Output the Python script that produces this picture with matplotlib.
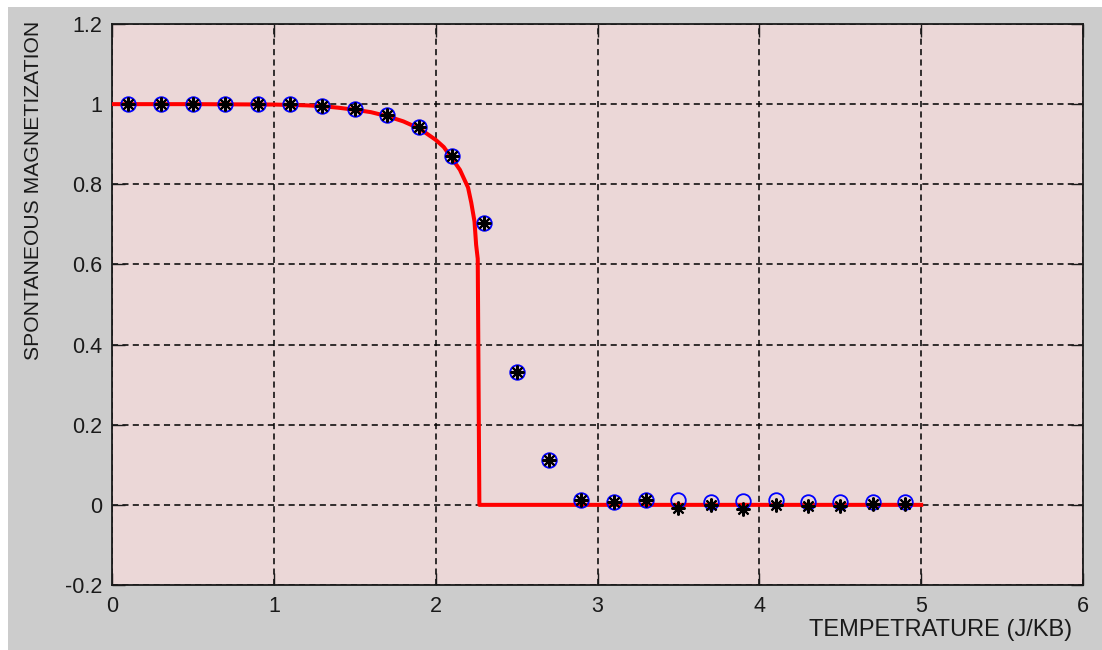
import numpy as np
import matplotlib
matplotlib.use('Agg')
import matplotlib.pyplot as plt
from matplotlib.patches import Rectangle

# simulated temperatures (J/KB)
temps = [0.1, 0.3, 0.5, 0.7, 0.9, 1.1, 1.3, 1.5, 1.7, 1.9, 2.1, 2.3, 2.5,
         2.7, 2.9, 3.1, 3.3, 3.5, 3.7, 3.9, 4.1, 4.3, 4.5, 4.7, 4.9]

# magnetization, run 1 (blue circles)
mag_circle = [1.0, 1.0, 1.0, 1.0, 1.0, 1.0, 0.995, 0.987, 0.972, 0.942,
              0.870, 0.703, 0.331, 0.111, 0.013, 0.006, 0.011, 0.011,
              0.007, 0.009, 0.012, 0.007, 0.008, 0.007, 0.008]

# magnetization, run 2 (black asterisks)
mag_star = [1.0, 1.0, 1.0, 1.0, 1.0, 1.0, 0.995, 0.987, 0.972, 0.942,
            0.870, 0.703, 0.331, 0.111, 0.013, 0.006, 0.011, -0.009,
            0.0, -0.011, 0.0, -0.003, -0.002, 0.003, 0.002]

# exact (Onsager) curve
theory_T = [0.0, 0.5, 1.0, 1.2, 1.3, 1.4, 1.5, 1.6, 1.7, 1.8, 1.9, 2.0,
            2.05, 2.1, 2.15, 2.2, 2.22, 2.24, 2.25, 2.26, 2.27, 5.0]
theory_M = [1.0, 1.0, 0.999, 0.997, 0.995, 0.991, 0.986, 0.980, 0.970,
            0.957, 0.939, 0.911, 0.893, 0.865, 0.836, 0.792, 0.754, 0.707,
            0.649, 0.614, 0.0, 0.0]

xticks = [0, 1, 2, 3, 4, 5, 6]
yticks = [-0.2, 0, 0.2, 0.4, 0.6, 0.8, 1, 1.2]
ytick_labels = ['-0.2', '0', '0.2', '0.4', '0.6', '0.8', '1', '1.2']

plt.rcParams['font.family'] = ['Liberation Sans', 'DejaVu Sans']

fig = plt.figure(figsize=(11.02, 6.5), dpi=100, facecolor='white')
fig.patches.append(Rectangle((8 / 1102, 0), 1, 643 / 650, transform=fig.transFigure,
                             facecolor='#cccccc', edgecolor='none', zorder=-10))

ax = fig.add_axes([112 / 1102, 65 / 650, 971 / 1102, 561 / 650])
ax.set_facecolor('#ebd7d7')

ax.plot(theory_T, theory_M, color='#ff0000', lw=2.9, zorder=3)
ax.plot(temps, mag_circle, 'o', mfc='none', mec='#0000ff', ms=10.5, mew=1.3, zorder=4)
ax.plot(temps, mag_star, marker=(8, 2, 0), ls='none', color='black', ms=10, mew=1.5, zorder=5)

ax.set_xlim(0, 6)
ax.set_ylim(-0.2, 1.2)
ax.set_xticks(xticks)
ax.set_yticks(yticks)
ax.set_yticklabels(ytick_labels)
ax.grid(True, color='black', linestyle=(0, (4, 2.8)), lw=1.1)
ax.tick_params(direction='in', length=9, width=1, top=True, right=True,
               labelsize=15.5, colors='#1a1a1a')
ax.tick_params(axis='x', pad=8)
ax.tick_params(axis='y', pad=7)
for s in ax.spines.values():
    s.set_linewidth(1.3)
    s.set_color('#1a1a1a')

ax.set_xlabel('TEMPETRATURE (J/KB)', fontsize=17, loc='right', color='#1a1a1a')
ax.xaxis.set_label_coords((1072 - 112) / 971, -(619 - 585) / 561)
ax.set_ylabel('SPONTANEOUS MAGNETIZATION', fontsize=15.2, loc='top', color='#1a1a1a')
ax.yaxis.set_label_coords(-(112 - 43) / 971, 1.005)

fig.savefig('out.png', dpi=100, facecolor=fig.get_facecolor())
